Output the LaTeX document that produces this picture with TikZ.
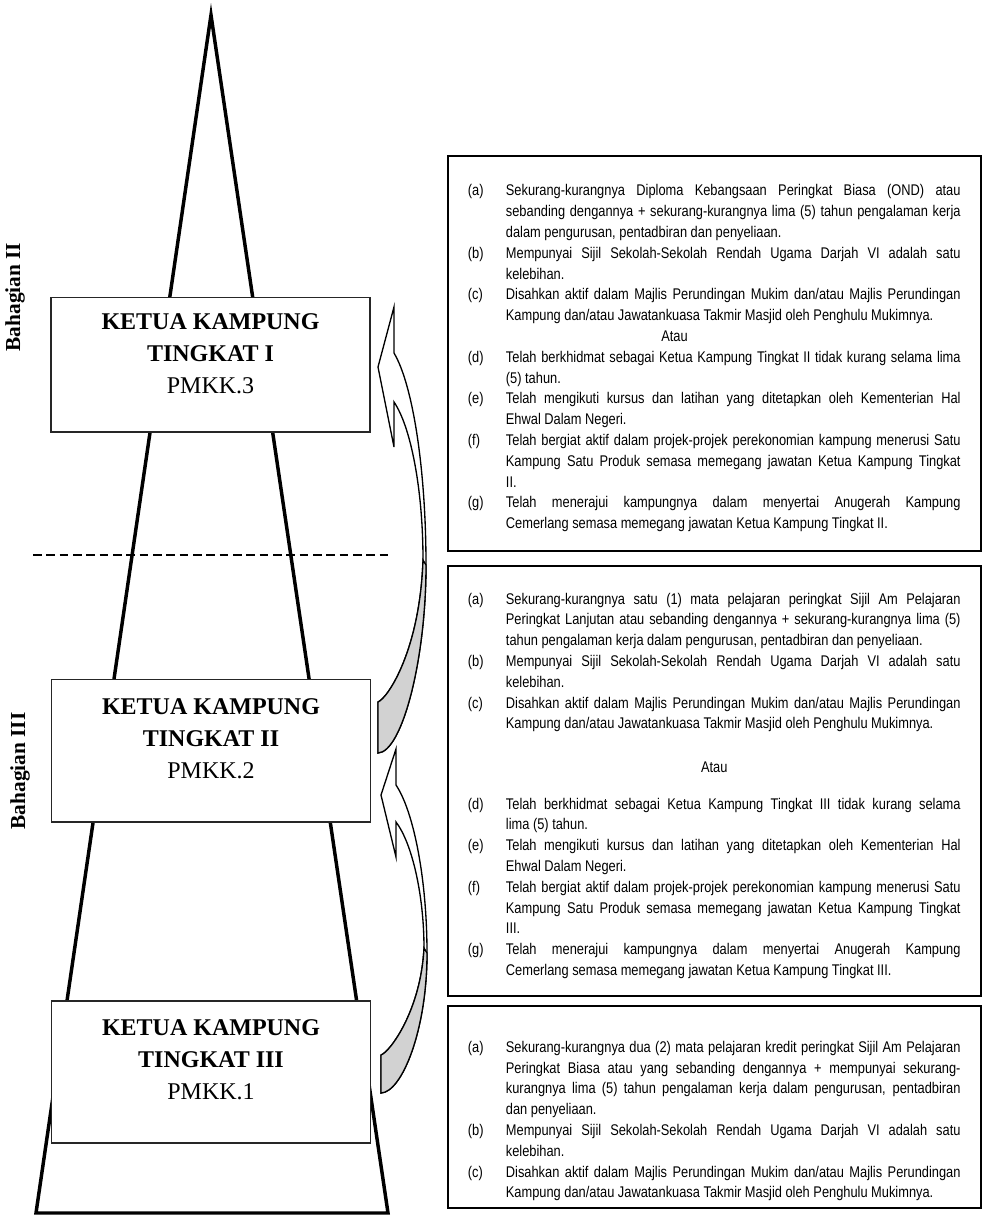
\documentclass[tikz,border=0pt]{standalone}
\usepackage{fontspec}
\setmainfont{Liberation Serif}
\newfontfamily\narrowsans[FakeStretch=0.83]{Liberation Sans}
\usetikzlibrary{positioning}
\definecolor{bandgrey}{HTML}{D2D2D2}
\newcommand{\butir}[2]{\par\noindent\hangindent=28.5pt\hangafter=1\makebox[28.5pt][l]{#1}#2\par}
\tikzset{
  pyramid/.style  ={draw=black, line width=2.6pt, line join=miter},
  divider/.style  ={draw=black, line width=1pt, dash pattern=on 6.5pt off 3.5pt},
  rankbox/.style  ={rectangle, draw=black!85, line width=1pt, fill=white,
                    minimum width=239.25pt, minimum height=106.5pt, inner sep=0pt},
  rankname/.style ={align=center, font=\fontsize{18}{24}\selectfont, inner sep=0pt},
  sidelbl/.style  ={rotate=90, font=\fontsize{16}{19}\selectfont\bfseries, inner sep=0pt},
  infobox/.style  ={rectangle, draw=black, line width=1.4pt, anchor=north west,
                    text width=369.5pt, inner xsep=15pt, inner ysep=0pt, align=justify,
                    font=\narrowsans\fontsize{11.6}{15.6}\selectfont,
                    execute at begin node={\tolerance=9999\hbadness=10000\hyphenpenalty=10000\parindent=0pt}},
  bentarrow/.style={draw=black, line width=1pt, fill=white, line join=miter},
  bentshade/.style={draw=black, line width=1pt, fill=bandgrey}
}
\begin{document}
\begin{tikzpicture}[x=0.75pt, y=-0.75pt]
  \useasboundingbox (0,0) rectangle (989,1218);

  % pyramid and section divider
  \draw[pyramid] (211,15) -- (36,1213) -- (388,1213) -- cycle;
  \draw[divider] (33,555) -- (390,555);

  % ranks
  \node[rankbox, minimum height=101pt] (kk1) at (210.5,364.5) {};
  \node[rankname] (kk1name) at ([yshift=8pt]kk1.center) {\textbf{KETUA KAMPUNG}\\\textbf{TINGKAT I}\\PMKK.3};
  \node[rankbox, minimum height=107pt] (kk2) at (211,750.5) {};
  \node[rankname] (kk2name) at ([yshift=8.5pt]kk2.center) {\textbf{KETUA KAMPUNG}\\\textbf{TINGKAT II}\\PMKK.2};
  \node[rankbox] (kk3) at (211,1072) {};
  \node[rankname] (kk3name) at ([yshift=9pt]kk3.center) {\textbf{KETUA KAMPUNG}\\\textbf{TINGKAT III}\\PMKK.1};

  \node[sidelbl] (bhg2) at (15,297) {Bahagian II};
  \node[sidelbl] (bhg3) at (20,771) {Bahagian III};

  % curved arrows (Tingkat II -> I, Tingkat III -> II)
  \draw[bentarrow] (378,702) .. controls (388,698) and (420,650) .. (423,560)
    .. controls (423,490) and (411,427) .. (394,402) -- (394,447) -- (378,367) -- (394,307) -- (394,353)
    .. controls (413,385) and (426,470) .. (426,565) .. controls (426,660) and (402,752) .. (378,753) -- cycle;
  \filldraw[bentshade] (378,702) .. controls (388,698) and (420,650) .. (423,560) -- (426,565)
    .. controls (426,660) and (402,752) .. (378,753) -- cycle;
  \draw[bentarrow] (381,1055) .. controls (390,1052) and (421,1010) .. (424,948)
    .. controls (424,895) and (412,843) .. (396,822) -- (396,857) -- (381,795) -- (396,749) -- (396,785)
    .. controls (414,812) and (427,880) .. (427,953) .. controls (427,1030) and (402,1092) .. (381,1093) -- cycle;
  \filldraw[bentshade] (381,1055) .. controls (390,1052) and (421,1010) .. (424,948) -- (427,953)
    .. controls (427,1030) and (402,1092) .. (381,1093) -- cycle;

  % requirements
  \node[infobox, minimum height=296.25pt] (req1) at (447,155) {%
    \butir{(a)}{Sekurang-kurangnya Diploma Kebangsaan Peringkat Biasa (OND) atau\linebreak sebanding dengannya + sekurang-kurangnya lima (5) tahun pengalaman kerja\linebreak dalam pengurusan, pentadbiran dan penyeliaan.}
    \butir{(b)}{Mempunyai Sijil Sekolah-Sekolah Rendah Ugama Darjah VI adalah satu\linebreak kelebihan.}
    \butir{(c)}{Disahkan aktif dalam Majlis Perundingan Mukim dan/atau Majlis Perundingan\linebreak Kampung dan/atau Jawatankuasa Takmir Masjid oleh Penghulu Mukimnya.}
    \noindent\hspace*{145pt}Atau\par
    \butir{(d)}{Telah berkhidmat sebagai Ketua Kampung Tingkat II tidak kurang selama lima\linebreak (5) tahun.}
    \butir{(e)}{Telah mengikuti kursus dan latihan yang ditetapkan oleh Kementerian Hal\linebreak Ehwal Dalam Negeri.}
    \butir{(f)}{Telah bergiat aktif dalam projek-projek perekonomian kampung menerusi Satu\linebreak Kampung Satu Produk semasa memegang jawatan Ketua Kampung Tingkat\linebreak II.}
    \butir{(g)}{Telah menerajui kampungnya dalam menyertai Anugerah Kampung\linebreak Cemerlang semasa memegang jawatan Ketua Kampung Tingkat II.}};
  \node[infobox, minimum height=322.5pt] (req2) at (447,565) {%
    \butir{(a)}{Sekurang-kurangnya satu (1) mata pelajaran peringkat Sijil Am Pelajaran\linebreak Peringkat Lanjutan atau sebanding dengannya + sekurang-kurangnya lima (5)\linebreak tahun pengalaman kerja dalam pengurusan, pentadbiran dan penyeliaan.}
    \butir{(b)}{Mempunyai Sijil Sekolah-Sekolah Rendah Ugama Darjah VI adalah satu\linebreak kelebihan.}
    \butir{(c)}{Disahkan aktif dalam Majlis Perundingan Mukim dan/atau Majlis Perundingan\linebreak Kampung dan/atau Jawatankuasa Takmir Masjid oleh Penghulu Mukimnya.}
    \vspace{17pt}\centerline{Atau}\vspace{12pt}
    \butir{(d)}{Telah berkhidmat sebagai Ketua Kampung Tingkat III tidak kurang selama\linebreak lima (5) tahun.}
    \butir{(e)}{Telah mengikuti kursus dan latihan yang ditetapkan oleh Kementerian Hal\linebreak Ehwal Dalam Negeri.}
    \butir{(f)}{Telah bergiat aktif dalam projek-projek perekonomian kampung menerusi Satu\linebreak Kampung Satu Produk semasa memegang jawatan Ketua Kampung Tingkat\linebreak III.}
    \butir{(g)}{Telah menerajui kampungnya dalam menyertai Anugerah Kampung\linebreak Cemerlang semasa memegang jawatan Ketua Kampung Tingkat III.}};
  \node[infobox, minimum height=151.5pt] (req3) at (447,1005) {%
    \vspace*{14pt}
    \butir{(a)}{Sekurang-kurangnya dua (2) mata pelajaran kredit peringkat Sijil Am Pelajaran\linebreak Peringkat Biasa atau yang sebanding dengannya + mempunyai sekurang-\linebreak kurangnya lima (5) tahun pengalaman kerja dalam pengurusan, pentadbiran\linebreak dan penyeliaan.}
    \butir{(b)}{Mempunyai Sijil Sekolah-Sekolah Rendah Ugama Darjah VI adalah satu\linebreak kelebihan.}
    \butir{(c)}{Disahkan aktif dalam Majlis Perundingan Mukim dan/atau Majlis Perundingan\linebreak Kampung dan/atau Jawatankuasa Takmir Masjid oleh Penghulu Mukimnya.}};
\end{tikzpicture}
\end{document}
